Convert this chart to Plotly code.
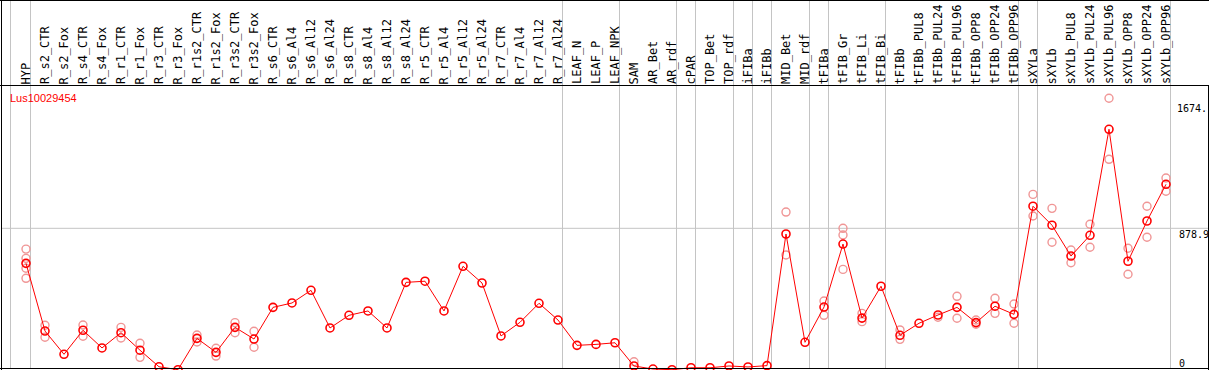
import plotly.graph_objects as go

categories = ["HYP", "R_s2_CTR", "R_s2_Fox", "R_s4_CTR", "R_s4_Fox", "R_r1_CTR", "R_r1_Fox",
              "R_r3_CTR", "R_r3_Fox", "R_r1s2_CTR", "R_r1s2_Fox", "R_r3s2_CTR", "R_r3s2_Fox",
              "R_s6_CTR", "R_s6_Al4", "R_s6_Al12", "R_s6_Al24", "R_s8_CTR", "R_s8_Al4", "R_s8_Al12",
              "R_s8_Al24", "R_r5_CTR", "R_r5_Al4", "R_r5_Al12", "R_r5_Al24", "R_r7_CTR", "R_r7_Al4",
              "R_r7_Al12", "R_r7_Al24", "LEAF_N", "LEAF_P", "LEAF_NPK", "SAM", "AR_Bet", "AR_rdf",
              "cPAR", "TOP_Bet", "TOP_rdf", "iFIBa", "iFIBb", "MID_Bet", "MID_rdf", "tFIBa",
              "tFIB_Gr", "tFIB_Li", "tFIB_Bi", "tFIBb", "tFIBb_PUL8", "tFIBb_PUL24", "tFIBb_PUL96",
              "tFIBb_OPP8", "tFIBb_OPP24", "tFIBb_OPP96", "sXYLa", "sXYLb", "sXYLb_PUL8",
              "sXYLb_PUL24", "sXYLb_PUL96", "sXYLb_OPP8", "sXYLb_OPP24", "sXYLb_OPP96"]

means = [663, 246, 103, 251, 142, 236, 128, 26, 8, 201, 115, 269, 197,
         392, 419, 497, 265, 343, 370, 265, 546, 553, 370, 645, 542, 216, 300, 417, 314,
         158, 164, 174, 31, 12, 8, 20, 20, 31, 25, 33, 844, 177, 394, 782, 326, 522,
         220, 294, 345, 392, 298, 399, 349, 1015, 898, 708, 836, 1489, 676, 924, 1150]

replicates = [[751, 694, 633, 571], [282, 208], [], [283, 214], [], [269, 203], [171, 84],
              [], [], [222, 179], [140, 92], [298, 236], [245, 146],
              [], [], [], [], [], [], [], [], [], [], [], [], [], [], [], [],
              [], [], [], [57], [], [], [], [], [], [], [],
              [979, 715], [], [431, 343], [879, 838, 626], [355, 304], [],
              [253, 195], [], [331], [460, 325], [314, 288], [448, 355], [413, 294],
              [1088, 955], [1002, 793], [745, 667], [904, 762], [1680, 1304], [756, 596],
              [1015, 824], [1189, 1107]]

# group separators: after these category indices
separators_after = [0, 28, 31, 34, 35, 37, 38, 39, 41, 42, 45, 52, 53, 60]
gene = "Lus10029454"
axis_labels = ["1674.", "878.9", "0"]
axis_values = [1674, 878.9, 0]

W, H = 1209, 370
# pixel mapping: category i -> 26 + 19*i ; value v -> 371 - v/6.16
xr = [-26 / 19, (W - 26) / 19]
yr = [(371 - H) * 6.16, 371 * 6.16]

def px(p):
    return p / W

def py(p):
    return 1 - p / H

idx = list(range(len(categories)))
rx = [i for i, r in enumerate(replicates) for _ in r]
ry = [v for r in replicates for v in r]

fig = go.Figure()
fig.add_trace(go.Scatter(x=rx, y=ry, mode="markers",
                         marker=dict(symbol="circle-open", size=8, color="rgb(240,150,150)",
                                     line=dict(width=1.4, color="rgb(240,150,150)")),
                         hoverinfo="skip", showlegend=False))
fig.add_trace(go.Scatter(x=idx, y=means, mode="lines+markers",
                         line=dict(color="#ff0000", width=1),
                         marker=dict(symbol="circle-open", size=8, color="#ff0000",
                                     line=dict(width=1.6, color="#ff0000")),
                         showlegend=False))

shapes = []
gray = "#c4c4c4"
# first gray line before HYP
sep_x = [-0.816] + [s + 0.237 for s in separators_after]
for s in sep_x:
    shapes.append(dict(type="line", xref="x", yref="paper", x0=s, x1=s, y0=py(369), y1=1,
                       line=dict(color=gray, width=1), layer="below"))
shapes.append(dict(type="line", xref="paper", yref="y", x0=px(1), x1=px(1208.5),
                   y0=axis_values[1], y1=axis_values[1], line=dict(color=gray, width=1), layer="below"))
black = "#000000"
for (x0, y0, x1, y1) in [(0, 0.5, W, 0.5), (0, 85.5, W, 85.5), (0, 368.5, W, 368.5),
                         (1.5, 0, 1.5, H), (1208.5, 85.5, 1208.5, H)]:
    shapes.append(dict(type="line", xref="paper", yref="paper", x0=px(x0), x1=px(x1),
                       y0=py(y0), y1=py(y1), line=dict(color=black, width=1), layer="above"))

annotations = []
for i, c in enumerate(categories):
    annotations.append(dict(x=i, y=py(85.5), xref="x", yref="paper", text=c, showarrow=False,
                            textangle=-90, xanchor="center", yanchor="bottom",
                            font=dict(family="DejaVu Sans Mono", size=12, color="black"),
                            borderpad=0))
annotations.append(dict(x=px(8), y=py(90), xref="paper", yref="paper", text=gene, showarrow=False,
                        xanchor="left", yanchor="top",
                        font=dict(family="Liberation Sans", size=11, color="#ff0000")))
for lab, top, left in zip(axis_labels, [101, 227, 356], [1175, 1177, 1177]):
    annotations.append(dict(x=px(left), y=py(top), xref="paper", yref="paper", text=lab,
                            showarrow=False, xanchor="left", yanchor="top",
                            font=dict(family="DejaVu Sans Mono", size=10, color="black")))

fig.update_layout(
    width=W, height=H, margin=dict(l=0, r=0, t=0, b=0, pad=0),
    paper_bgcolor="white", plot_bgcolor="white",
    xaxis=dict(range=xr, visible=False, fixedrange=True),
    yaxis=dict(range=yr, visible=False, fixedrange=True),
    shapes=shapes, annotations=annotations,
)

fig.write_html("out.html", config={"displayModeBar": False, "responsive": False},
               post_script="document.body.style.margin='0';document.body.style.overflow='hidden';")
